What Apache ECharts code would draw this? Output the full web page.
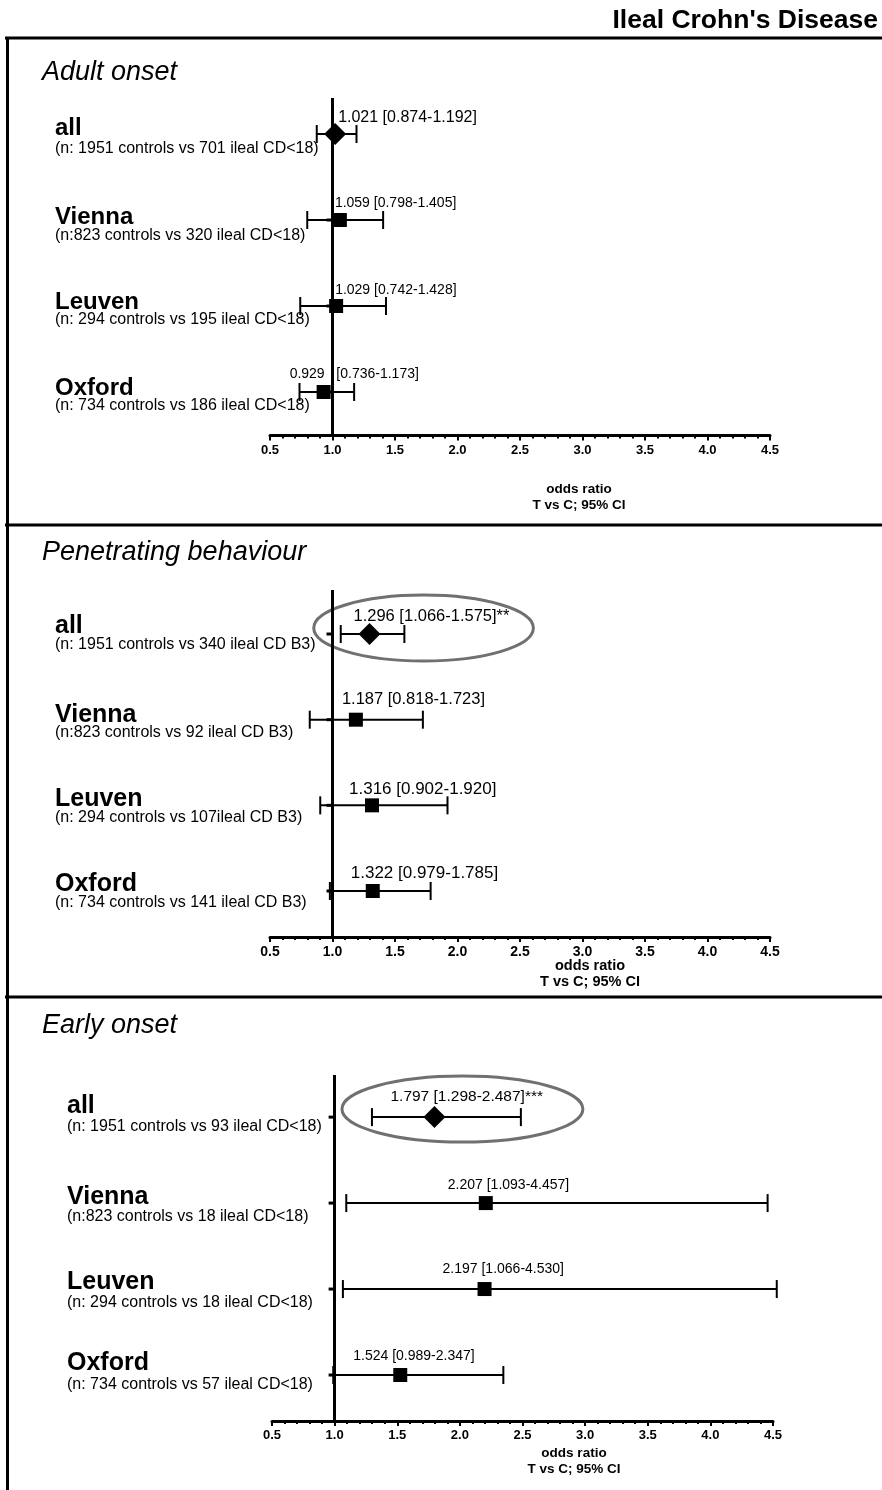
<!DOCTYPE html>
<html>
<head>
<meta charset="utf-8">
<script src="https://cdn.jsdelivr.net/npm/echarts@6/dist/echarts.min.js"></script>
<style>html,body{margin:0;padding:0;background:#fff}#c{width:882px;height:1490px}</style>
</head>
<body>
<div id="c"></div>
<script>
// ---------------- data ----------------
const mainTitle = "Ileal Crohn's Disease";
const panelTitles = ['Adult onset', 'Penetrating behaviour', 'Early onset'];
const rowNames = ['all', 'Vienna', 'Leuven', 'Oxford'];
const xTicks = [0.5, 1.0, 1.5, 2.0, 2.5, 3.0, 3.5, 4.0, 4.5];
const axisName = 'odds ratio\nT vs C; 95% CI';
const refValue = 1;

const adultN = ['(n: 1951 controls vs 701 ileal CD<18)', '(n:823 controls vs 320 ileal CD<18)', '(n: 294 controls vs 195 ileal CD<18)', '(n: 734 controls vs 186 ileal CD<18)'];
const adultOR = [1.021, 1.059, 1.029, 0.929];
const adultLo = [0.874, 0.798, 0.742, 0.736];
const adultHi = [1.192, 1.405, 1.428, 1.173];
const adultSig = ['', '', '', ''];

const penN = ['(n: 1951 controls vs 340 ileal CD B3)', '(n:823 controls vs 92 ileal CD B3)', '(n: 294 controls vs 107ileal CD B3)', '(n: 734 controls vs 141 ileal CD B3)'];
const penOR = [1.296, 1.187, 1.316, 1.322];
const penLo = [1.066, 0.818, 0.902, 0.979];
const penHi = [1.575, 1.723, 1.920, 1.785];
const penSig = ['**', '', '', ''];

const earlyN = ['(n: 1951 controls vs 93 ileal CD<18)', '(n:823 controls vs 18 ileal CD<18)', '(n: 294 controls vs 18 ileal CD<18)', '(n: 734 controls vs 57 ileal CD<18)'];
const earlyOR = [1.797, 2.207, 2.197, 1.524];
const earlyLo = [1.298, 1.093, 1.066, 0.989];
const earlyHi = [2.487, 4.457, 4.530, 2.347];
const earlySig = ['***', '', '', ''];

const panels = [
  { n: adultN, or: adultOR, lo: adultLo, hi: adultHi, sig: adultSig },
  { n: penN, or: penOR, lo: penLo, hi: penHi, sig: penSig },
  { n: earlyN, or: earlyOR, lo: earlyLo, hi: earlyHi, sig: earlySig }
];

// ---------------- layout / style ----------------
const F = "'Liberation Sans', Arial, Helvetica, sans-serif";
const markerShape = ['diamond', 'square', 'square', 'square'];
const layout = [
  { top: 98, bottom: 435.5, left: 270, right: 770, ymin: -0.419, ymax: 3.506, nameGap: 46, namePad: 118, nameFS: 13.5, titleY: 72, labelX: 55,
    rowFS: 24, subFS: 16, valFS: [16, 14, 14, 14], sep: [' ', ' ', ' ', '   '],
    nameDy: [-6, -3, -4, -4], subDy: [15, 16, 14, 14], valDx: [3, -5, -1, -34], valDy: [-16, -17, -16, -18], tickFS: 13,
    ell: { padL: 27, padR: 129, dy: -6, ry: 33 } },
  { top: 590, bottom: 937, left: 270, right: 770, ymin: -0.514, ymax: 3.537, nameGap: 21, namePad: 140, nameFS: 14.5, titleY: 552, labelX: 55,
    rowFS: 25, subFS: 16, valFS: [16.5, 16.5, 17, 17], sep: [' ', ' ', ' ', ' '],
    nameDy: [-8, -5, -6, -7], subDy: [11, 13, 12, 12], valDx: [-16, -14, -23, -22], valDy: [-18, -20, -16, -18], tickFS: 14,
    ell: { padL: 27, padR: 129, dy: -6, ry: 33 } },
  { top: 1075, bottom: 1421, left: 272, right: 773, ymin: -0.49, ymax: 3.535, nameGap: 24, namePad: 103, nameFS: 13.5, titleY: 1025, labelX: 67,
    rowFS: 25, subFS: 16, valFS: [15.5, 14, 14, 14], sep: [' ', ' ', ' ', ' '],
    nameDy: [-11, -6, -7, -12], subDy: [9, 14, 14, 10], valDx: [-44, -38, -42, -47], valDy: [-20, -18, -20, -19], tickFS: 13,
    ell: { padL: 30, padR: 62, dy: -8, ry: 33 } }
];

function txt(x, y, text, fs, weight, style, align) {
  return { type: 'text', x: x, y: y, style: { text: text, fill: '#000', fontFamily: F, fontSize: fs,
    fontWeight: weight || 'normal', fontStyle: style || 'normal', align: align || 'left', verticalAlign: 'middle' } };
}

function makeRender(k) {
  const L = layout[k], P = panels[k];
  return function (params, api) {
    const i = params.dataIndex;
    const row = api.value(0);
    const orv = api.value(1), lov = api.value(2), hiv = api.value(3);
    const pOr = api.coord([orv, row]);
    const pLo = api.coord([lov, row]);
    const pHi = api.coord([hiv, row]);
    const pRef = api.coord([refValue, row]);
    const y = pOr[1];
    const kids = [];
    if (P.sig[i]) {
      const x0 = pLo[0] - L.ell.padL, x1 = pHi[0] + L.ell.padR;
      kids.push({ type: 'ellipse', shape: { cx: (x0 + x1) / 2, cy: y + L.ell.dy, rx: (x1 - x0) / 2, ry: L.ell.ry },
        style: { fill: 'none', stroke: '#707070', lineWidth: 3 } });
    }
    kids.push({ type: 'line', shape: { x1: pLo[0], y1: y, x2: pHi[0], y2: y }, style: { stroke: '#000', lineWidth: 2 } });
    [pLo[0], pHi[0]].forEach(function (x) {
      kids.push({ type: 'line', shape: { x1: x, y1: y - 9, x2: x, y2: y + 9 }, style: { stroke: '#000', lineWidth: 2 } });
    });
    kids.push({ type: 'line', shape: { x1: pRef[0] - 6, y1: y, x2: pRef[0], y2: y }, style: { stroke: '#000', lineWidth: 3 } });
    if (markerShape[i] === 'diamond') {
      const h = 11;
      kids.push({ type: 'polygon', shape: { points: [[pOr[0], y - h], [pOr[0] + h, y], [pOr[0], y + h], [pOr[0] - h, y]] }, style: { fill: '#000' } });
    } else {
      const s = 7;
      kids.push({ type: 'rect', shape: { x: pOr[0] - s, y: y - s, width: 2 * s, height: 2 * s }, style: { fill: '#000' } });
    }
    const label = orv.toFixed(3) + L.sep[i] + '[' + lov.toFixed(3) + '-' + hiv.toFixed(3) + ']' + P.sig[i];
    kids.push(txt(pOr[0] + L.valDx[i], y + L.valDy[i], label, L.valFS[i]));
    kids.push(txt(L.labelX, y + L.nameDy[i], rowNames[i], L.rowFS, 'bold'));
    kids.push(txt(L.labelX, y + L.subDy[i], P.n[i], L.subFS));
    return { type: 'group', children: kids };
  };
}

const W = 882;
const option = {
  animation: false,
  backgroundColor: '#fff',
  grid: layout.map(function (L) {
    return { left: L.left, width: L.right - L.left, top: L.top, height: L.bottom - L.top, containLabel: false };
  }),
  xAxis: layout.map(function (L, k) {
    return {
      gridIndex: k, type: 'value', min: xTicks[0], max: xTicks[xTicks.length - 1], interval: xTicks[1] - xTicks[0],
      axisLine: { show: true, onZero: false, lineStyle: { color: '#000', width: 3 } },
      axisTick: { show: true, length: 5, lineStyle: { color: '#000', width: 2 } },
      minorTick: { show: true, splitNumber: 5, length: 3, lineStyle: { color: '#000', width: 2 } },
      splitLine: { show: false }, minorSplitLine: { show: false },
      axisLabel: { formatter: function (v) { return v.toFixed(1); }, color: '#000', fontWeight: 'bold', fontSize: L.tickFS, fontFamily: F, margin: 8 },
      name: axisName, nameLocation: 'middle', nameGap: L.nameGap, nameMoveOverlap: false,
      nameTextStyle: { color: '#000', fontWeight: 'bold', fontSize: L.nameFS, fontFamily: F, lineHeight: 16, padding: [0, 0, 0, L.namePad] }
    };
  }),
  yAxis: layout.map(function (L, k) {
    return { gridIndex: k, type: 'value', inverse: true, min: L.ymin, max: L.ymax, show: false };
  }),
  series: panels.map(function (P, k) {
    return {
      type: 'custom', xAxisIndex: k, yAxisIndex: k, clip: false,
      renderItem: makeRender(k),
      encode: { x: [1, 2, 3], y: 0 },
      data: P.or.map(function (v, i) { return [i, v, P.lo[i], P.hi[i]]; }),
      markLine: { silent: true, symbol: ['none', 'none'], label: { show: false },
        lineStyle: { color: '#000', width: 3, type: 'solid' }, data: [{ xAxis: refValue }] }
    };
  }),
  graphic: [
    { type: 'line', shape: { x1: 5, y1: 38, x2: W, y2: 38 }, style: { stroke: '#000', lineWidth: 3 } },
    { type: 'line', shape: { x1: 7.5, y1: 37, x2: 7.5, y2: 1490 }, style: { stroke: '#000', lineWidth: 3 } },
    { type: 'line', shape: { x1: 5, y1: 525, x2: W, y2: 525 }, style: { stroke: '#000', lineWidth: 3 } },
    { type: 'line', shape: { x1: 5, y1: 997, x2: W, y2: 997 }, style: { stroke: '#000', lineWidth: 3 } },
    { type: 'text', x: 878, y: 21, style: { text: mainTitle, fill: '#000', fontFamily: F, fontSize: 26.5, fontWeight: 'bold', align: 'right', verticalAlign: 'middle' } }
  ].concat(panelTitles.map(function (t, k) {
    return { type: 'text', x: 42, y: layout[k].titleY, style: { text: t, fill: '#000', fontFamily: F, fontSize: 27, fontStyle: 'italic', align: 'left', verticalAlign: 'middle' } };
  }))
};

const chart = echarts.init(document.getElementById('c'), null, { renderer: 'canvas' });
chart.setOption(option);
</script>
</body>
</html>
